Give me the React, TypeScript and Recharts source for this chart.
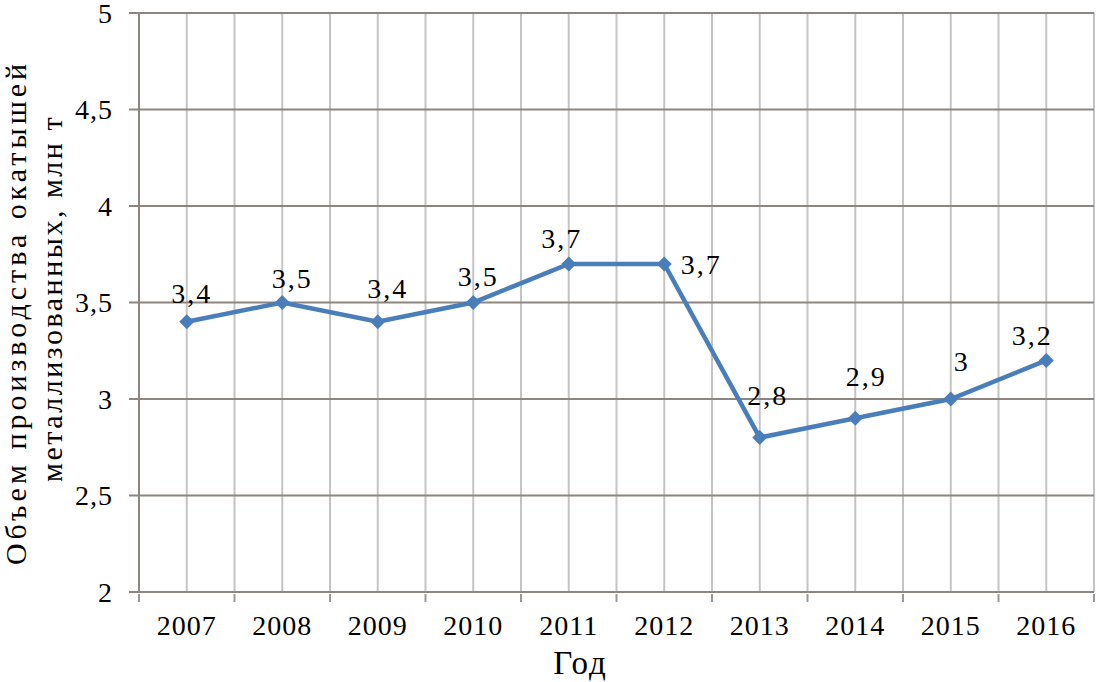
import React from "react";
import { CartesianGrid, LabelList, Line, LineChart, XAxis, YAxis } from "recharts";

const years = ["2007", "2008", "2009", "2010", "2011", "2012", "2013", "2014", "2015", "2016"];
const volumes = [3.4, 3.5, 3.4, 3.5, 3.7, 3.7, 2.8, 2.9, 3, 3.2];
const yTicks = [2, 2.5, 3, 3.5, 4, 4.5, 5];
const titleLines = ["Объем производства окатышей", "металлизованных, млн т"];
const xTitle = "Год";

// where each value label sits relative to its point (dx, dy to the baseline)
const labelShift = [
  [5, -19],
  [10, -15],
  [10, -24],
  [5, -17],
  [-7, -16],
  [37, 10],
  [8, -33],
  [11, -32],
  [11, -28],
  [-14, -15],
];

const FONT = '"Liberation Serif", "Times New Roman", serif';
const LINE = "#4a7ebb";

const rows = years.map((year, i) => ({ x: i + 0.5, year, value: volumes[i] }));
const xTicks = Array.from({ length: years.length * 2 + 1 }, (_, i) => i / 2);

const fmt = (v: number) => String(v).replace(".", ",");

function XTick(props: any) {
  const { x, y, payload } = props;
  const v = payload.value as number;
  if (Number.isInteger(v)) {
    return <line x1={x} x2={x} y1={y} y2={y + 8} stroke="#999" strokeWidth={2} />;
  }
  return (
    <text x={x} y={y + 41} textAnchor="middle" fontFamily={FONT} fontSize={28} fill="#000" letterSpacing={1}>
      {years[Math.floor(v)]}
    </text>
  );
}

function Diamond(props: any) {
  const { cx, cy } = props;
  if (cx == null || cy == null) return null;
  const r = 7.5;
  return <path d={`M${cx},${cy - r}L${cx + r},${cy}L${cx},${cy + r}L${cx - r},${cy}Z`} fill={LINE} />;
}

function ValueLabel(props: any) {
  const { x, y, value, index } = props;
  const [dx, dy] = labelShift[index] ?? [0, -18];
  return (
    <text x={x + dx} y={y + dy} textAnchor="middle" fontFamily={FONT} fontSize={28} fill="#000" letterSpacing={2}>
      {fmt(value)}
    </text>
  );
}

function YTitle(props: any) {
  const { viewBox } = props;
  const cy = viewBox.y + viewBox.height / 2;
  return (
    <g fontFamily={FONT} fontSize={30} fill="#000">
      <text x={26} y={cy + 10} textAnchor="middle" letterSpacing={4} transform={`rotate(-90 26 ${cy + 10})`}>
        {titleLines[0]}
      </text>
      <text x={62} y={cy - 4} textAnchor="middle" letterSpacing={2.5} transform={`rotate(-90 62 ${cy - 4})`}>
        {titleLines[1]}
      </text>
    </g>
  );
}

export default function App() {
  return (
    <div style={{ width: 1096, height: 682, background: "#fff" }}>
      <style>{"body{margin:0}"}</style>
      <LineChart width={1096} height={682} data={rows} margin={{ top: 13, right: 2, bottom: 50, left: 79 }}>
        <CartesianGrid horizontal={false} verticalValues={xTicks} stroke="#c4c4c4" strokeWidth={2} />
        <CartesianGrid vertical={false} horizontalValues={yTicks} stroke="#8c8580" strokeWidth={2} />
        <XAxis
          type="number"
          dataKey="x"
          domain={[0, years.length]}
          ticks={xTicks}
          interval={0}
          axisLine={{ stroke: "#8c8580", strokeWidth: 2 }}
          tickLine={false}
          tickSize={0}
          tick={<XTick />}
          height={40}
          label={{ value: xTitle, position: "insideBottom", offset: -42, dx: -36, fontFamily: FONT, fontSize: 33, fill: "#000", letterSpacing: 2 }}
        />
        <YAxis
          type="number"
          domain={[2, 5]}
          ticks={yTicks}
          interval={0}
          width={60}
          tickFormatter={fmt}
          tickSize={10}
          tickMargin={16}
          axisLine={{ stroke: "#8c8580", strokeWidth: 2 }}
          tickLine={{ stroke: "#8c8580", strokeWidth: 2 }}
          tick={{ fontFamily: FONT, fontSize: 28, fill: "#000", letterSpacing: 1 }}
          label={<YTitle />}
        />
        <Line
          type="linear"
          dataKey="value"
          stroke={LINE}
          strokeWidth={4.5}
          dot={<Diamond />}
          activeDot={false}
          isAnimationActive={false}
        >
          <LabelList dataKey="value" content={<ValueLabel />} />
        </Line>
      </LineChart>
    </div>
  );
}
